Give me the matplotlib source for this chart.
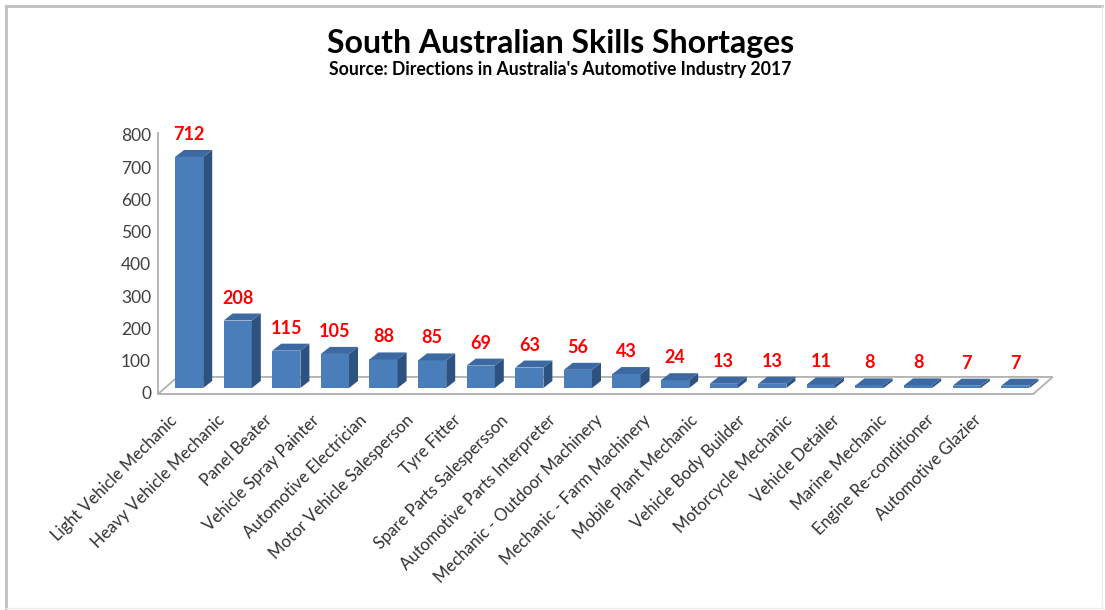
import matplotlib.pyplot as plt
from matplotlib.patches import Polygon
from matplotlib.lines import Line2D
from matplotlib.transforms import ScaledTranslation

# Chart data
occupations = [
    "Light Vehicle Mechanic", "Heavy Vehicle Mechanic", "Panel Beater",
    "Vehicle Spray Painter", "Automotive Electrician", "Motor Vehicle Salesperson",
    "Tyre Fitter", "Spare Parts Salespersson", "Automotive Parts Interpreter",
    "Mechanic - Outdoor Machinery", "Mechanic - Farm Machinery",
    "Mobile Plant Mechanic", "Vehicle Body Builder", "Motorcycle Mechanic",
    "Vehicle Detailer", "Marine Mechanic", "Engine Re-conditioner",
    "Automotive Glazier",
]
shortages = [712, 208, 115, 105, 88, 85, 69, 63, 56, 43, 24, 13, 13, 11, 8, 8, 7, 7]
tick_values = [0, 100, 200, 300, 400, 500, 600, 700, 800]

plt.rcParams['font.family'] = ['Lato', 'DejaVu Sans']

fig = plt.figure(figsize=(11.05, 6.10), dpi=100)
ax = fig.add_axes([0.143, 0.3541, 0.8163, 0.4492])
xmin, xmax = -0.64, 17.92
ymin, ymax = -18.5, 826
ax.set_xlim(xmin, xmax)
ax.set_ylim(ymin, ymax)

front_col = '#4a7ebb'
top_col = '#3d69a3'
side_col = '#2d5280'
grid_col = '#b0b0b0'

# floor of the 3D plot
fdx, fdy = 0.40, 52.5
floor_right = 17.37
floor = Polygon([(xmin, ymin), (floor_right, ymin),
                 (floor_right + fdx, ymin + fdy), (xmin + fdx, ymin + fdy)],
                closed=True, facecolor='white', edgecolor=grid_col, lw=1.3,
                zorder=1, clip_on=False)
ax.add_patch(floor)
ax.plot([xmin, xmin], [ymin, 786], color=grid_col, lw=1.3, clip_on=False, zorder=1)

# bars with fake depth
w = 0.58
dx, dy = 0.185, 21.6
for i, v in enumerate(shortages):
    x0, x1 = i - w / 2, i + w / 2
    ax.bar(i, v, width=w, color=front_col, zorder=3)
    ax.add_patch(Polygon([(x1, 0), (x1 + dx, dy), (x1 + dx, v + dy), (x1, v)],
                         closed=True, facecolor=side_col, edgecolor='none', zorder=3))
    ax.add_patch(Polygon([(x0, v), (x1, v), (x1 + dx, v + dy), (x0 + dx, v + dy)],
                         closed=True, facecolor=top_col, edgecolor='none', zorder=3))
    ax.annotate(str(v), (i, v + dy), xytext=(0, 5), textcoords='offset points',
                ha='center', va='bottom', color='#ff0000', fontsize=13,
                fontweight='bold', zorder=4)

# y ticks are slightly offset from the bar scale in the original
ax.set_yticks([-15 + t * 795 / 800 for t in tick_values])
ax.set_yticklabels([str(t) for t in tick_values], fontsize=12.5, color='#404040')
ax.set_xticks(range(len(occupations)))
ax.set_xticklabels(occupations, rotation=45, ha='right', va='top',
                   rotation_mode='anchor', fontsize=12, color='#303030')
ax.tick_params(axis='both', length=0)
ax.tick_params(axis='y', pad=5)
ax.tick_params(axis='x', pad=13)
for s in ax.spines.values():
    s.set_visible(False)

# category labels are spaced a little tighter than the bars (perspective)
for i, lab in enumerate(ax.get_xticklabels()):
    lab.set_transform(lab.get_transform() +
                      ScaledTranslation((-20 - i * 1.3) / 100, 0, fig.dpi_scale_trans))

fig.text(0.507, 0.928, "South Australian Skills Shortages", ha='center', va='center',
         fontsize=23, fontweight='bold', color='black')
fig.text(0.507, 0.886, "Source: Directions in Australia's Automotive Industry 2017",
         ha='center', va='center', fontsize=12.7, fontweight='bold', color='black')

# outer frame
fig.add_artist(Line2D([6 / 1105, 1102 / 1105], [1 - 6 / 610, 1 - 6 / 610],
                      color='#c0c0c0', lw=2, transform=fig.transFigure))
fig.add_artist(Line2D([6 / 1105, 6 / 1105], [1 - 6 / 610, 0],
                      color='#c0c0c0', lw=2, transform=fig.transFigure))
fig.add_artist(Line2D([1102 / 1105, 1102 / 1105], [1 - 6 / 610, 2 / 610],
                      color='#ececec', lw=1, transform=fig.transFigure))
fig.add_artist(Line2D([6 / 1105, 1102 / 1105], [2 / 610, 2 / 610],
                      color='#ececec', lw=1, transform=fig.transFigure))

fig.savefig("out.png", dpi=100)
